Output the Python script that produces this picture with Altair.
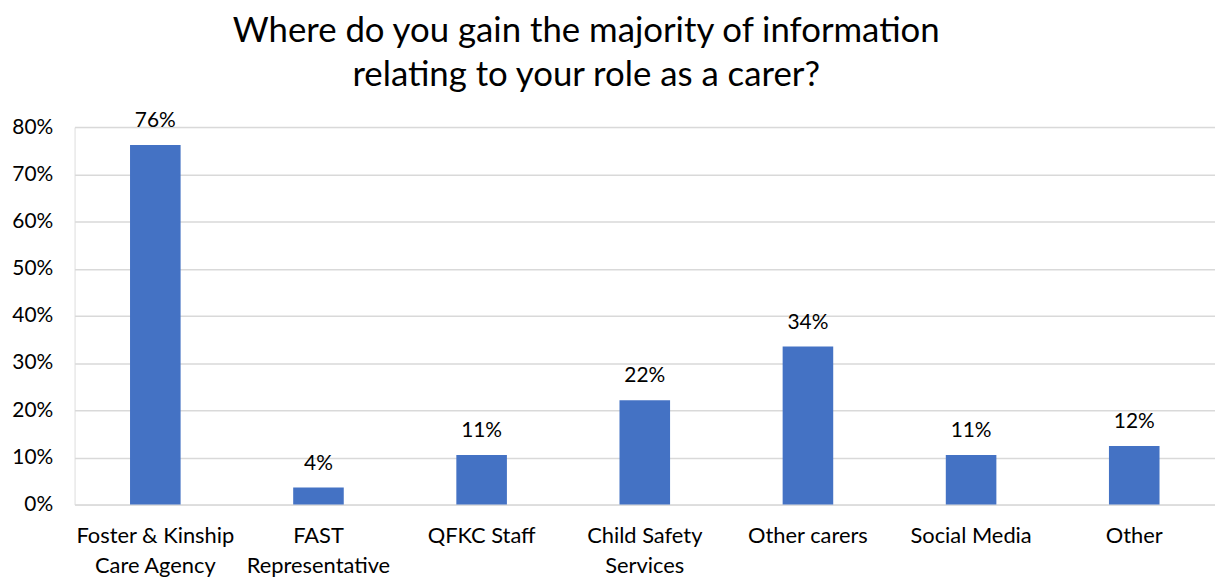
import json
import altair as alt
import pandas as pd

categories = ["Foster & Kinship Care Agency", "FAST Representative", "QFKC Staff",
              "Child Safety Services", "Other carers", "Social Media", "Other"]
label_lines = [["Foster & Kinship", "Care Agency"], ["FAST", "Representative"], ["QFKC Staff"],
               ["Child Safety", "Services"], ["Other carers"], ["Social Media"], ["Other"]]
values = [0.762, 0.036, 0.105, 0.221, 0.335, 0.105, 0.124]
title_lines = ["Where do you gain the majority of information", "relating to your role as a carer?"]

df = pd.DataFrame({"cat": categories, "val": values})
label_map = json.dumps(dict(zip(categories, label_lines)))

FONT = "Lato"
x = alt.X("cat:N", sort=categories, title=None,
          scale=alt.Scale(paddingInner=0.69, paddingOuter=0.34),
          axis=alt.Axis(labelExpr=f"{label_map}[datum.value]", labelAngle=0,
                        labelFontSize=22, labelFont=FONT, labelColor="#000000",
                        labelPadding=21, labelLineHeight=30, ticks=False, domain=False))
y = alt.Y("val:Q", title=None,
          scale=alt.Scale(domain=[0, 0.8], nice=False),
          axis=alt.Axis(format=".0%", values=[0, .1, .2, .3, .4, .5, .6, .7, .8],
                        labelFontSize=21, labelFont=FONT, labelColor="#000000",
                        labelPadding=22, ticks=False, domain=False,
                        gridColor="#d9d9d9", gridWidth=1.5))

bars = alt.Chart(df).mark_bar(color="#4472C4").encode(x=x, y=y)
texts = alt.Chart(df).mark_text(baseline="alphabetic", dy=-18, fontSize=21, font=FONT,
                                color="#000000").encode(
    x=alt.X("cat:N", sort=categories), y="val:Q", text=alt.Text("val:Q", format=".0%"))

chart = (bars + texts).properties(
    width=1148, height=380,
    autosize=alt.AutoSizeParams(type="none"),
    padding={"left": 67, "top": 118, "right": 0, "bottom": 73},
    title=alt.TitleParams(title_lines, font=FONT, fontSize=35, fontWeight="normal",
                          color="#000000", lineHeight=45, anchor="middle", frame="group",
                          dx=-59, offset=17),
).configure_view(stroke=None).configure(background="white")

chart.save("out.html", embed_options={"renderer": "svg", "actions": False})
